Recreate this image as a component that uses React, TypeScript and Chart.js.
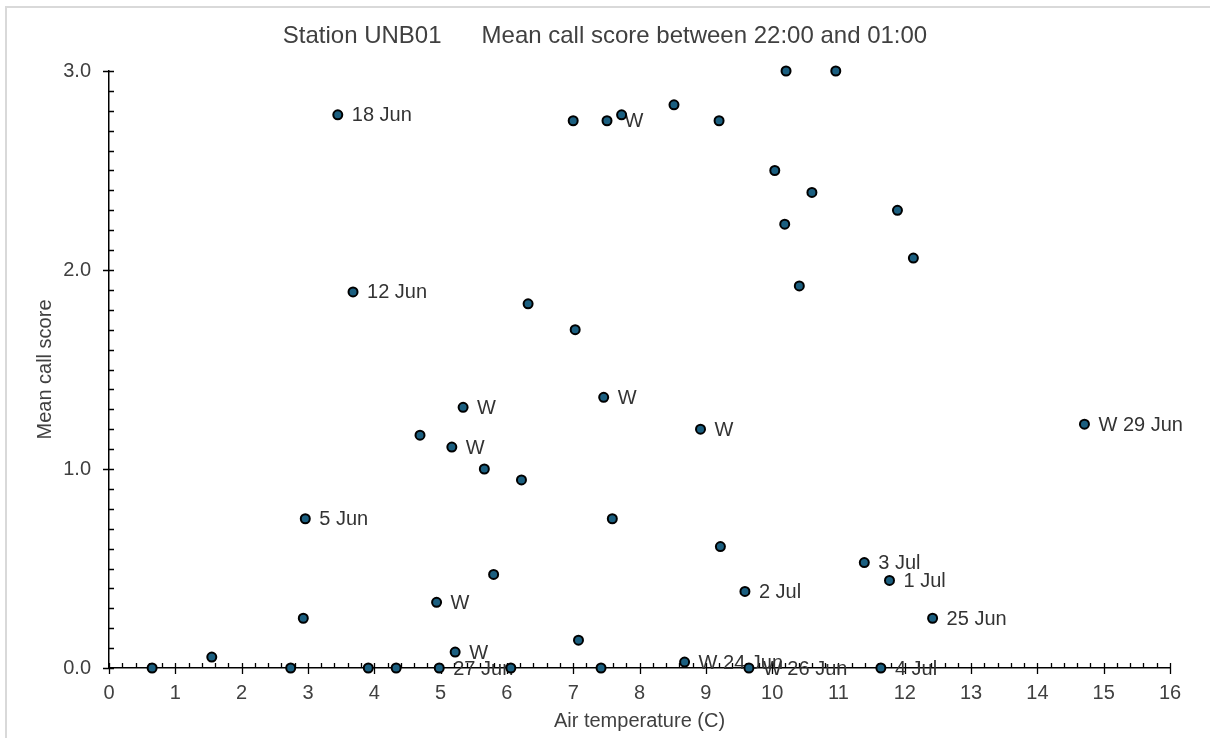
import React, { useEffect, useRef } from "react";
import { Chart, registerables } from "chart.js";

Chart.register(...registerables);

const FONT = '"Liberation Sans", Arial, Helvetica, sans-serif';

const chartTitle = "Station UNB01      Mean call score between 22:00 and 01:00";
const xAxisTitle = "Air temperature (C)";
const yAxisTitle = "Mean call score";

const airTemp = [
  3.45, 7.0, 7.51, 7.73, 8.52, 9.2, 10.21, 10.96, 10.04, 10.6, 11.89, 10.19,
  12.13, 10.41, 3.68, 6.32, 7.03, 7.46, 5.34, 4.69, 5.17, 8.92, 5.66, 6.22,
  14.71, 2.96, 7.59, 9.22, 11.39, 11.77, 9.59, 12.42, 5.8, 4.94, 2.93, 5.22,
  7.08, 1.55, 8.68, 0.65, 2.74, 3.91, 4.33, 4.98, 6.06, 7.42, 9.65, 11.64,
];

const callScore = [
  2.78, 2.75, 2.75, 2.78, 2.83, 2.75, 3.0, 3.0, 2.5, 2.39, 2.3, 2.23, 2.06,
  1.92, 1.89, 1.83, 1.7, 1.36, 1.31, 1.17, 1.11, 1.2, 1.0, 0.945, 1.225, 0.75,
  0.75, 0.61, 0.53, 0.44, 0.385, 0.25, 0.47, 0.33, 0.25, 0.08, 0.14, 0.055,
  0.03, 0, 0, 0, 0, 0, 0, 0, 0, 0,
];

const pointLabels = [
  "18 Jun", "", "", "W", "", "", "", "", "", "", "", "", "", "", "12 Jun", "",
  "", "W", "W", "", "W", "W", "", "", "W 29 Jun", "5 Jun", "", "", "3 Jul",
  "1 Jul", "2 Jul", "25 Jun", "", "W", "", "W", "", "", "W 24 Jun", "", "", "",
  "", "27 Jun", "", "", "W 26 Jun", "4 Jul",
];

const X_MIN = 0;
const X_MAX = 16;
const Y_MIN = 0;
const Y_MAX = 3;

// Title centred on the whole canvas (the plot area is offset to the left)
const titlePlugin = {
  id: "canvasTitle",
  afterDraw(chart: any) {
    const ctx = chart.ctx;
    ctx.save();
    ctx.font = `24px ${FONT}`;
    ctx.fillStyle = "#404040";
    ctx.textAlign = "center";
    ctx.textBaseline = "middle";
    ctx.fillText(chartTitle, chart.width / 2, 36);
    ctx.restore();
  },
};

const labelPlugin = {
  id: "pointLabels",
  beforeDatasetsDraw(chart: any) {
    const ctx = chart.ctx;
    const meta = chart.getDatasetMeta(0);
    ctx.save();
    ctx.font = `20px ${FONT}`;
    ctx.fillStyle = "#333333";
    ctx.textBaseline = "middle";
    ctx.textAlign = "left";
    meta.data.forEach((el: any, i: number) => {
      const t = pointLabels[i];
      if (!t) return;
      // the label of the crowded point near the top sits tucked in below-right
      const crowded = i === 3;
      const dx = crowded ? 3 : 14;
      const dy = crowded ? 7 : 1;
      ctx.fillText(t, el.x + dx, el.y + dy);
    });
    ctx.restore();
  },
};

const tickPlugin = {
  id: "axisTicks",
  beforeDatasetsDraw(chart: any) {
    const { ctx, chartArea } = chart;
    const xs = chart.scales.x;
    const ys = chart.scales.y;
    const yb = chartArea.bottom;
    const xl = chartArea.left;
    ctx.save();
    ctx.strokeStyle = "#000000";
    ctx.lineWidth = 1.3;
    ctx.beginPath();
    for (let k = X_MIN * 5; k <= X_MAX * 5; k++) {
      const px = Math.round(xs.getPixelForValue(k / 5)) + 0.5;
      if (k % 5 === 0) {
        ctx.moveTo(px, yb - 5);
        ctx.lineTo(px, yb + 6);
      } else {
        ctx.moveTo(px, yb - 5);
        ctx.lineTo(px, yb);
      }
    }
    for (let k = Y_MIN * 10; k <= Y_MAX * 10; k++) {
      const py = Math.round(ys.getPixelForValue(k / 10)) + 0.5;
      if (k % 10 === 0) {
        ctx.moveTo(xl - 6, py);
        ctx.lineTo(xl + 5, py);
      } else {
        ctx.moveTo(xl, py);
        ctx.lineTo(xl + 5, py);
      }
    }
    ctx.stroke();
    ctx.restore();
  },
};

export default function App() {
  const canvasRef = useRef<HTMLCanvasElement | null>(null);

  useEffect(() => {
    if (!canvasRef.current) return;
    const data = airTemp.map((x, i) => ({ x, y: callScore[i] }));
    const chart = new Chart(canvasRef.current, {
      type: "scatter",
      data: {
        datasets: [
          {
            data,
            pointRadius: 4.5,
            pointHoverRadius: 4.5,
            pointBorderWidth: 2,
            pointBackgroundColor: "#1b5f80",
            pointBorderColor: "#000000",
            clip: false,
          } as any,
        ],
      },
      options: {
        animation: false,
        responsive: false,
        devicePixelRatio: 1,
        layout: { padding: { left: 0, right: 40, top: 71, bottom: 0 } },
        plugins: {
          legend: { display: false },
          tooltip: { enabled: false },
          title: { display: false },
        },
        scales: {
          x: {
            type: "linear",
            min: X_MIN,
            max: X_MAX,
            afterFit: (s: any) => {
              s.height = 70;
            },
            grid: { display: false, drawTicks: false },
            border: { display: true, color: "#000000", width: 1.5 },
            ticks: {
              stepSize: 1,
              color: "#404040",
              font: { family: FONT, size: 20 },
              padding: 13,
              maxRotation: 0,
            },
            title: {
              display: true,
              text: xAxisTitle,
              color: "#404040",
              font: { family: FONT, size: 20 },
              padding: { top: 0, bottom: 5 },
            },
          },
          y: {
            type: "linear",
            min: Y_MIN,
            max: Y_MAX,
            afterFit: (s: any) => {
              s.width = 109;
            },
            grid: { display: false, drawTicks: false },
            border: { display: true, color: "#000000", width: 1.5 },
            ticks: {
              stepSize: 1,
              color: "#404040",
              font: { family: FONT, size: 20 },
              padding: 18,
              callback: (v: any) => Number(v).toFixed(1),
            },
            title: {
              display: true,
              text: yAxisTitle,
              color: "#404040",
              font: { family: FONT, size: 20 },
              padding: { top: 33, bottom: 0 },
            },
          },
        },
      },
      plugins: [tickPlugin, labelPlugin, titlePlugin],
    });
    return () => chart.destroy();
  }, []);

  return (
    <div
      style={{
        position: "absolute",
        left: 0,
        top: 0,
        width: 1210,
        height: 738,
        background: "#ffffff",
        overflow: "hidden",
      }}
    >
      <div
        style={{
          position: "absolute",
          left: 5,
          top: 6,
          right: -10,
          bottom: -10,
          borderLeft: "2px solid #d9d9d9",
          borderTop: "2px solid #d9d9d9",
        }}
      />
      <canvas
        ref={canvasRef}
        width={1210}
        height={738}
        style={{ position: "absolute", left: 0, top: 0, width: 1210, height: 738 }}
      />
    </div>
  );
}
